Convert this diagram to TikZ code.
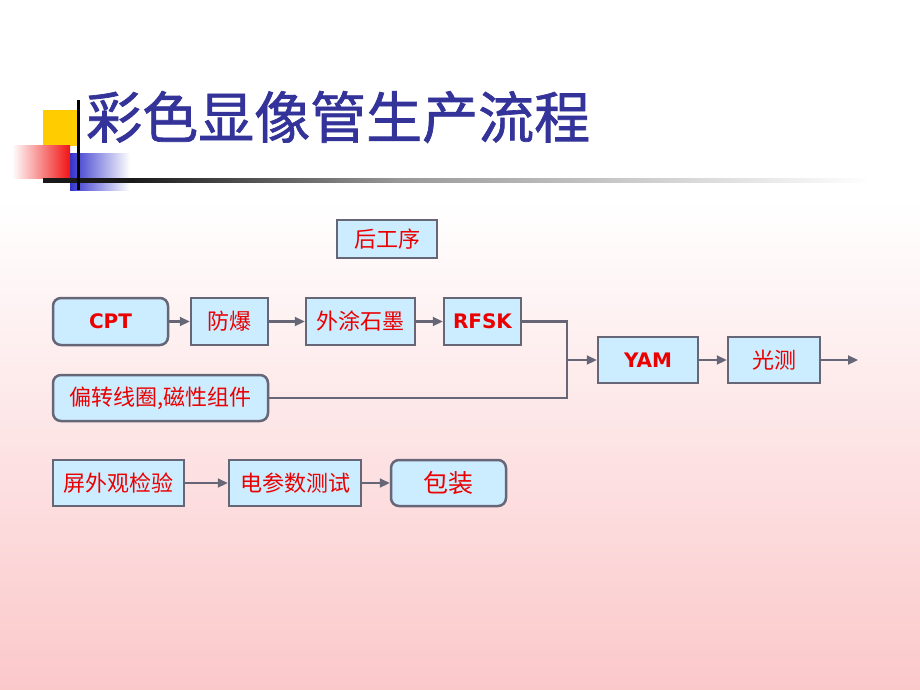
\documentclass[tikz,border=0pt]{standalone}
\usepackage{fontspec}
\newfontfamily\cjk{Noto Sans CJK SC}
\newfontfamily\cjktitle[FakeBold=1.2]{Noto Sans CJK SC}
\newfontfamily\lat{DejaVu Sans}
\usetikzlibrary{arrows.meta}
\definecolor{titleblue}{RGB}{51,51,153}
\definecolor{boxfill}{RGB}{204,236,255}
\definecolor{boxline}{RGB}{102,102,119}
\definecolor{txtred}{RGB}{235,0,0}
\definecolor{pinkbg}{RGB}{251,200,202}
\definecolor{decoyellow}{RGB}{255,204,0}
\definecolor{decored}{RGB}{240,20,20}
\definecolor{decoblue}{RGB}{51,51,204}
\tikzset{
  box/.style={draw=boxline, line width=2.5pt, fill=boxfill, text=txtred, inner sep=0pt, font=\cjk\fontsize{22}{24}\selectfont},
  rbox/.style={box, rounded corners=8pt},
  latin/.style={font=\lat\bfseries\fontsize{20}{24}\selectfont},
  conn/.style={draw=boxline, line width=2.2pt, -{Triangle[length=10pt,width=9pt]}},
  line/.style={draw=boxline, line width=2.2pt},
}
\begin{document}
\begin{tikzpicture}[x=1pt,y=-1pt]
\useasboundingbox (0,0) rectangle (920,690);
% background
\fill[white] (0,0) rectangle (920,200);
\shade[top color=white, bottom color=pinkbg] (0,200) rectangle (920,690);
% decoration
\fill[decoyellow] (43,110) rectangle (78,146);
\shade[left color=decoblue, right color=white] (70,153) rectangle (130,190);
\shade[left color=white, right color=decored] (12,145) rectangle (70,178);
\fill[black!90] (43,178) rectangle (130,182.5);
\shade[left color=black!90, right color=black!40] (130,178) rectangle (400,182.5);
\shade[left color=black!40, right color=white] (400,178) rectangle (870,182.5);
\draw[black, line width=3pt] (78,100) -- (78,190);
% title
\node[anchor=west, text=titleblue, font=\cjktitle\fontsize{56}{60}\selectfont, inner sep=0pt] (title) at (86,117) {彩色显像管生产流程};
% nodes
\node[box, minimum width=100pt, minimum height=38pt] (hgx) at (387,239) {后工序};
\node[rbox, latin, minimum width=115pt, minimum height=47pt] (cpt) at (110.5,321.5) {CPT};
\node[box, minimum width=77pt, minimum height=47pt] (fb) at (229.5,321.5) {防爆};
\node[box, minimum width=109pt, minimum height=47pt] (wt) at (360.5,321.5) {外涂石墨};
\node[box, latin, minimum width=77pt, minimum height=47pt] (rfsk) at (482.5,321.5) {RFSK};
\node[rbox, minimum width=215pt, minimum height=46pt] (pz) at (160.5,398) {偏转线圈,磁性组件};
\node[box, latin, minimum width=100pt, minimum height=46pt] (yam) at (648,360) {YAM};
\node[box, minimum width=92pt, minimum height=46pt] (gc) at (774,360) {光测};
\node[box, minimum width=131pt, minimum height=46pt] (pw) at (118.5,483) {屏外观检验};
\node[box, minimum width=132pt, minimum height=46pt] (dc) at (295,483) {电参数测试};
\node[rbox, minimum width=115pt, minimum height=46pt, font=\cjk\fontsize{25}{28}\selectfont] (bz) at (448.5,483) {包装};
% connectors
\coordinate (j) at (567,360);
\coordinate (out) at (858,360);
\draw[conn] (cpt) -- (fb);
\draw[conn] (fb) -- (wt);
\draw[conn] (wt) -- (rfsk);
\draw[line] (rfsk.east) -| (j);
\draw[line] (pz.east) -| (j);
\draw[conn] (j) -- (yam);
\draw[conn] (yam) -- (gc);
\draw[conn] (gc) -- (out);
\draw[conn] (pw) -- (dc);
\draw[conn] (dc) -- (bz);
\end{tikzpicture}
\end{document}
